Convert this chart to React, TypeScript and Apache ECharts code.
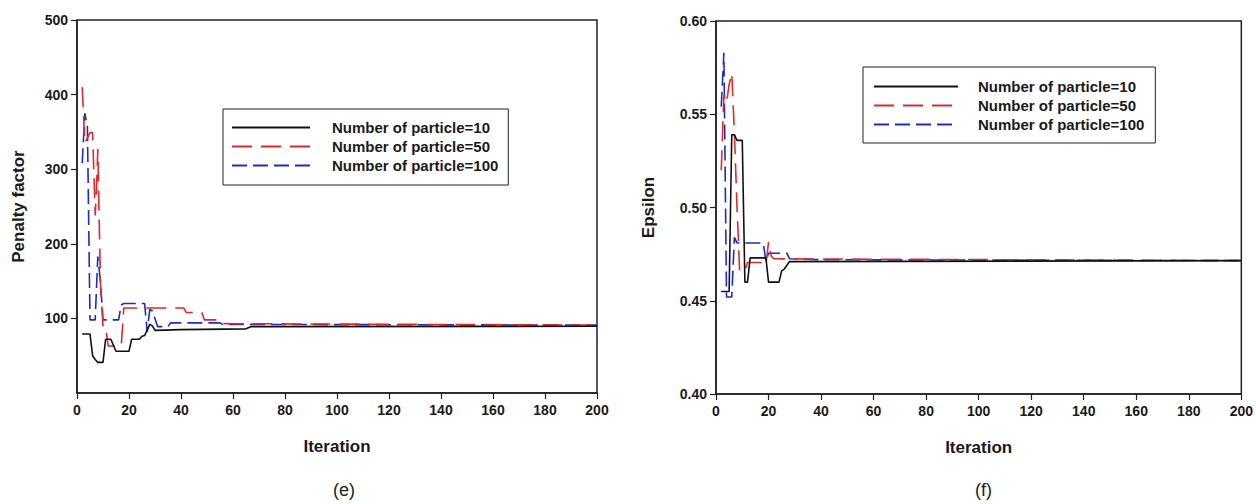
import React, { useEffect, useRef } from "react";
import * as echarts from "echarts";

const SERIES_NAMES = ["Number of particle=10", "Number of particle=50", "Number of particle=100"];
const PANEL_CAPTIONS = ["(e)", "(f)"];
const X_NAME = "Iteration";
const Y_NAMES = ["Penalty factor", "Epsilon"];

// Panel (e): Penalty factor vs iteration  [iteration, value]
const penaltyN10: [number, number][] = [
  [2, 79], [5, 79], [6, 50], [7, 45], [8, 41], [10, 41], [11, 72], [13, 72], [14, 64], [15, 56],
  [20, 56], [21, 72], [24, 72], [25, 76], [26, 77], [28, 92], [29, 90], [30, 84], [40, 85],
  [65, 86], [67, 89], [200, 89.5],
];
const penaltyN50: [number, number][] = [
  [2, 410], [3, 335], [5, 349], [6, 349], [7, 238], [7.5, 275], [8, 327], [9, 150], [10, 89],
  [11, 89], [12, 63], [17, 63], [18, 114], [41, 114], [42, 108], [48, 108], [49, 98], [55, 98],
  [56, 93], [200, 91],
];
const penaltyN100: [number, number][] = [
  [2, 308], [3, 375], [4, 357], [5, 98], [7, 98], [8, 183], [9, 150], [10, 98], [16, 98],
  [17, 118], [18, 120], [26, 120], [27, 82], [28, 112], [29, 110], [31, 89], [35, 89], [36, 94],
  [55, 94], [56, 92], [200, 91],
];

// Panel (f): Epsilon vs iteration  [iteration, value]
const epsilonN10: [number, number][] = [
  [2, 0.455], [5, 0.455], [6, 0.539], [7, 0.539], [8, 0.536], [10, 0.536], [11, 0.46], [12, 0.46],
  [13, 0.473], [19, 0.473], [20, 0.46], [24, 0.46], [25, 0.466], [26, 0.467], [28, 0.471],
  [200, 0.4715],
];
const epsilonN50: [number, number][] = [
  [2, 0.52], [3, 0.56], [4, 0.556], [5, 0.566], [6, 0.572], [7, 0.54], [8, 0.5], [9, 0.466],
  [11, 0.466], [12, 0.4705], [17, 0.4705], [18, 0.469], [19, 0.469], [20, 0.4815], [21, 0.474],
  [22, 0.4725], [200, 0.4715],
];
const epsilonN100: [number, number][] = [
  [2, 0.554], [3, 0.583], [4, 0.452], [6, 0.452], [7, 0.484], [8, 0.481], [18, 0.481],
  [19, 0.471], [20, 0.4755], [27, 0.4755], [28, 0.4725], [40, 0.472], [200, 0.4715],
];

const FONT = 'Arial, "Liberation Sans", Helvetica, sans-serif';
const INK = "#1a1a1a";
const COLORS = ["#111111", "#dd2a2a", "#1f2cc4"];
const DASHES: any[] = ["solid", [20, 9], [15, 6]];

export default function App() {
  const ref = useRef<HTMLDivElement>(null);
  useEffect(() => {
    const chart = echarts.init(ref.current!, null, { renderer: "svg" });

    const axisCommon = {
      axisLine: { show: true, lineStyle: { color: "#222", width: 1.5 } },
      axisTick: { show: true, inside: false, length: 6, lineStyle: { color: "#222", width: 1.2 } },
      splitLine: { show: false },
      nameTextStyle: { fontFamily: FONT, fontWeight: "bold", fontSize: 17, color: INK },
    };
    const labelStyle = { fontFamily: FONT, fontWeight: "bold", fontSize: 14, color: INK };

    const mkSeries = (data: [number, number][], idx: number, panel: number) => ({
      type: "line",
      name: SERIES_NAMES[idx],
      xAxisIndex: panel,
      yAxisIndex: panel,
      data,
      symbol: "none",
      showSymbol: false,
      lineStyle: { color: COLORS[idx], width: 1.6, type: DASHES[idx] },
      itemStyle: { color: COLORS[idx] },
      z: 3 - idx,
    });

    const legendCommon = {
      orient: "vertical",
      itemGap: 4,
      itemHeight: 14,
      borderColor: "#222",
      borderWidth: 1,
      backgroundColor: "#fff",
      data: SERIES_NAMES,
      selectedMode: false,
      itemStyle: { opacity: 0 },
    };

    chart.setOption({
      animation: false,
      backgroundColor: "#fff",
      grid: [
        { left: 77, top: 20, width: 520, height: 373, show: true, borderColor: "#222", borderWidth: 1.5, backgroundColor: "transparent" },
        { left: 716, top: 21, width: 529, height: 373, show: true, borderColor: "#222", borderWidth: 1.5, backgroundColor: "transparent" },
      ],
      xAxis: [0, 1].map((g) => ({
        ...axisCommon,
        type: "value",
        gridIndex: g,
        min: 0,
        max: 200,
        interval: 20,
        name: X_NAME,
        nameLocation: "middle",
        nameGap: 45,
        axisLabel: { ...labelStyle, margin: 10 },
      })),
      yAxis: [
        {
          ...axisCommon,
          type: "value",
          gridIndex: 0,
          min: 0,
          max: 500,
          interval: 100,
          name: Y_NAMES[0],
          nameLocation: "middle",
          nameGap: 50,
          axisLabel: { ...labelStyle, margin: 9, showMinLabel: false },
        },
        {
          ...axisCommon,
          type: "value",
          gridIndex: 1,
          min: 0.4,
          max: 0.6,
          interval: 0.05,
          name: Y_NAMES[1],
          nameLocation: "middle",
          nameGap: 59,
          axisLabel: { ...labelStyle, margin: 9, formatter: (v: number) => v.toFixed(2) },
        },
      ],
      legend: [
        {
          ...legendCommon,
          left: 223,
          top: 109,
          padding: [11, 10, 12, 8],
          itemWidth: 78,
          textStyle: { fontFamily: FONT, fontWeight: "bold", fontSize: 15, color: INK, padding: [0, 0, 0, 17] },
        },
        {
          ...legendCommon,
          left: 863,
          top: 67,
          padding: [12, 11, 11, 10],
          itemWidth: 84,
          textStyle: { fontFamily: FONT, fontWeight: "bold", fontSize: 15, color: INK, padding: [0, 0, 0, 15] },
        },
      ],
      graphic: [
        { type: "text", left: 333, top: 481, style: { text: PANEL_CAPTIONS[0], font: `18px ${FONT}`, fill: "#222" } },
        { type: "text", left: 975, top: 481, style: { text: PANEL_CAPTIONS[1], font: `18px ${FONT}`, fill: "#222" } },
      ],
      series: [
        mkSeries(penaltyN10, 0, 0),
        mkSeries(penaltyN50, 1, 0),
        mkSeries(penaltyN100, 2, 0),
        mkSeries(epsilonN10, 0, 1),
        mkSeries(epsilonN50, 1, 1),
        mkSeries(epsilonN100, 2, 1),
      ],
    });

    return () => chart.dispose();
  }, []);

  return (
    <div
      ref={ref}
      style={{ position: "fixed", left: 0, top: 0, width: 1256, height: 504, background: "#fff" }}
    />
  );
}
